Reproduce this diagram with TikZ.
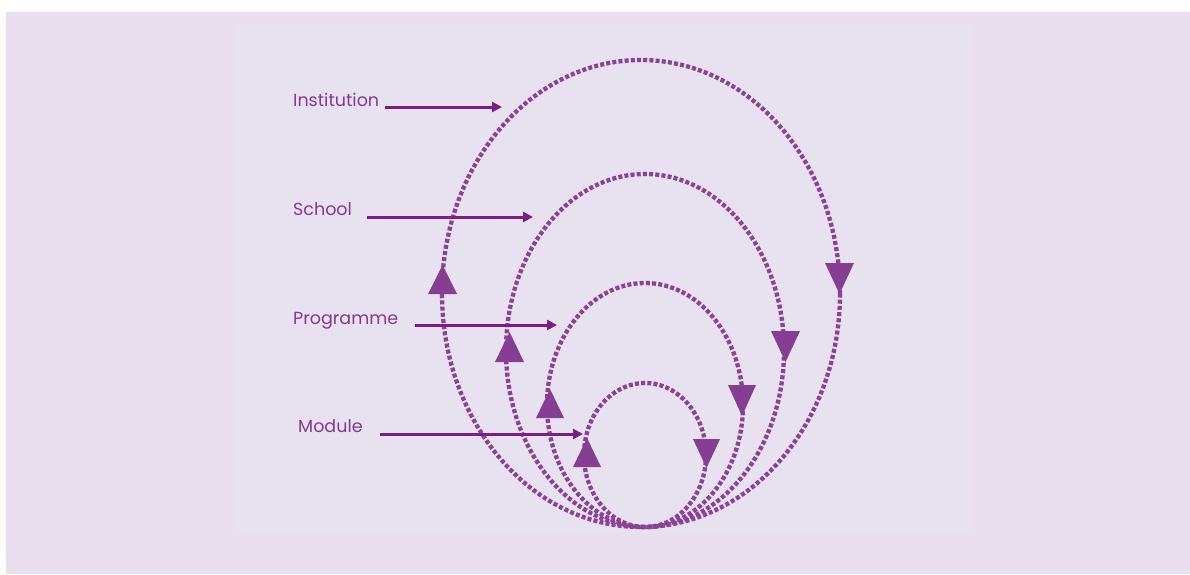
\documentclass[tikz,border=0pt]{standalone}
\usepackage{fontspec}
\setmainfont{Poppins}
\usetikzlibrary{arrows.meta}
\definecolor{bgout}{RGB}{234,223,238}
\definecolor{bgin}{RGB}{232,226,240}
\definecolor{loopc}{RGB}{138,66,150}
\definecolor{arrc}{RGB}{122,30,134}
\definecolor{txtc}{RGB}{132,56,146}
\definecolor{tric}{RGB}{134,62,146}
\begin{document}
\begin{tikzpicture}[x=1pt,y=-1pt,
  loopst/.style={draw=loopc,line width=4.3pt,dash pattern=on 4pt off 2.2pt},
  labtext/.style={text=txtc,font=\fontsize{17.5}{20}\selectfont,inner sep=0pt,anchor=base west},
  labarrow/.style={draw=arrc,line width=3pt,-{Triangle[length=10pt,width=10pt]}},
  tri/.style={fill=tric}]
\useasboundingbox (0,0) rectangle (1190,574);
\fill[white] (0,0) rectangle (1190,574);
\fill[bgout] (6,12) rectangle (1190,574);
\fill[bgin] (237,25) rectangle (972,533);
% loops
\draw[loopst] (641,293.5) ellipse [x radius=199, y radius=233.5];
\draw[loopst] (645,350.5) ellipse [x radius=139, y radius=176.5];
\draw[loopst] (645,405) ellipse [x radius=98, y radius=122];
\draw[loopst] (645,455) ellipse [x radius=61, y radius=72];
% up triangles (left)
\fill[tri] (428,294) -- (457,294) -- (442.5,265) -- cycle;
\fill[tri] (495,362) -- (524,362) -- (509.5,332) -- cycle;
\fill[tri] (536,418) -- (564,418) -- (550,389) -- cycle;
\fill[tri] (573,467) -- (601,467) -- (587,438) -- cycle;
% down triangles (right)
\fill[tri] (825,263) -- (854,263) -- (839.5,294) -- cycle;
\fill[tri] (771,331) -- (800,331) -- (785.5,362) -- cycle;
\fill[tri] (728,385) -- (756,385) -- (742,416) -- cycle;
\fill[tri] (693,439) -- (720,439) -- (706.5,468) -- cycle;
% labels
\node[labtext] (inst) at (293,106) {Institution};
\node[labtext] (school) at (293,215) {School};
\node[labtext] (prog) at (293,324) {Programme};
\node[labtext] (mod) at (298,432) {Module};
\coordinate (instS) at (385,107); \coordinate (instE) at (502,107);
\coordinate (schS) at (367,217); \coordinate (schE) at (533,217);
\coordinate (progS) at (415,325); \coordinate (progE) at (557,325);
\coordinate (modS) at (380,434); \coordinate (modE) at (583,434);
\draw[labarrow] (instS) -- (instE);
\draw[labarrow] (schS) -- (schE);
\draw[labarrow] (progS) -- (progE);
\draw[labarrow] (modS) -- (modE);
\end{tikzpicture}
\end{document}
